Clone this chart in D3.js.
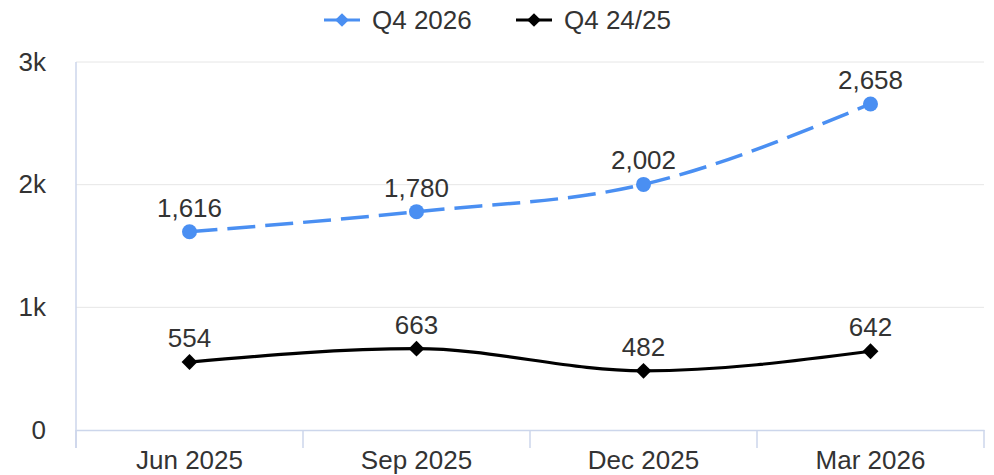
<!DOCTYPE html>
<html>
<head>
<meta charset="utf-8">
<script src="https://cdn.jsdelivr.net/npm/d3@7"></script>
<style>
  body { margin: 0; background: #fff; }
  text { font-family: "Liberation Sans", Arial, sans-serif; fill: #333; }
</style>
</head>
<body>
<div id="chart"></div>
<script>
// data
let categories = ['Jun 2025', 'Sep 2025', 'Dec 2025', 'Mar 2026']
let q4_2026 = [1616, 1780, 2002, 2658]
let q4_2425 = [554, 663, 482, 642]
let yTicks = [0, 1000, 2000, 3000]
let seriesNames = ['Q4 2026', 'Q4 24/25']

let W = 994, H = 475
let margin = { top: 62, right: 10, bottom: 45, left: 76 }
let blue = '#4a8ff2', black = '#000'
let fs = 26

let svg = d3.select('#chart').append('svg')
    .attr('width', W)
    .attr('height', H)

let x = d3.scaleBand()
    .domain(categories)
    .range([margin.left, W - margin.right])

let y = d3.scaleLinear()
    .domain([0, 3000])
    .range([H - margin.bottom, margin.top])

let fmt = d3.format(',')
let cx = d => x(d) + x.bandwidth() / 2

// gridlines
svg.append('g')
    .selectAll('line')
    .data(yTicks.slice(1))
    .enter().append('line')
    .attr('x1', margin.left).attr('x2', W - margin.right)
    .attr('y1', d => y(d)).attr('y2', d => y(d))
    .attr('stroke', '#e6e6e6')
    .attr('stroke-width', 1)

// y axis
let yAxis = svg.append('g')
    .attr('transform', `translate(${margin.left},0)`)
    .call(d3.axisLeft(y).tickValues(yTicks).tickSize(0).tickPadding(30)
        .tickFormat(d => d === 0 ? '0' : d3.format('~s')(d)))
yAxis.select('.domain').remove()
yAxis.selectAll('text').attr('font-size', fs).attr('fill', '#333')
    .attr('font-family', '"Liberation Sans", Arial, sans-serif')
yAxis.append('line')
    .attr('x1', 0).attr('x2', 0)
    .attr('y1', margin.top).attr('y2', H - margin.bottom + 18)
    .attr('stroke', '#ccd6eb')
    .attr('stroke-width', 1.5)

// x axis
let xAxis = svg.append('g')
    .attr('transform', `translate(0,${H - margin.bottom})`)
    .call(d3.axisBottom(x).tickSize(0).tickPadding(21))
xAxis.select('.domain').attr('stroke', '#ccd6eb').attr('stroke-width', 1.5)
xAxis.selectAll('text').attr('font-size', fs).attr('fill', '#333')
    .attr('font-family', '"Liberation Sans", Arial, sans-serif')
let edges = categories.map(d => x(d)).concat([x(categories[categories.length - 1]) + x.bandwidth()])
xAxis.selectAll('.edge')
    .data(edges)
    .enter().append('line')
    .attr('class', 'edge')
    .attr('x1', d => d).attr('x2', d => d)
    .attr('y1', 0).attr('y2', 18)
    .attr('stroke', '#ccd6eb')
    .attr('stroke-width', 1.5)

// lines
let line = d3.line()
    .x((d, i) => cx(categories[i]))
    .y(d => y(d))
    .curve(d3.curveMonotoneX)

svg.append('path')
    .datum(q4_2026)
    .attr('d', line)
    .attr('fill', 'none')
    .attr('stroke', blue)
    .attr('stroke-width', 3.5)
    .attr('stroke-dasharray', '28,10')

svg.append('path')
    .datum(q4_2425)
    .attr('d', line)
    .attr('fill', 'none')
    .attr('stroke', black)
    .attr('stroke-width', 3.2)

// markers
svg.append('g')
    .selectAll('circle')
    .data(q4_2026)
    .enter().append('circle')
    .attr('cx', (d, i) => cx(categories[i]))
    .attr('cy', d => y(d))
    .attr('r', 7.5)
    .attr('fill', blue)

let diamond = d3.symbol().type(d3.symbolDiamond2).size(160)
svg.append('g')
    .selectAll('path')
    .data(q4_2425)
    .enter().append('path')
    .attr('d', diamond)
    .attr('transform', (d, i) => `translate(${cx(categories[i])},${y(d)})`)
    .attr('fill', black)

// data labels
let labels = (data) => {
    svg.append('g')
        .selectAll('text')
        .data(data)
        .enter().append('text')
        .attr('x', (d, i) => cx(categories[i]))
        .attr('y', d => y(d) - 15)
        .attr('text-anchor', 'middle')
        .attr('font-size', fs)
        .text(d => fmt(d))
}
labels(q4_2026)
labels(q4_2425)

// legend
let legend = svg.append('g')
let items = [
    { name: seriesNames[0], color: blue, x0: 324 },
    { name: seriesNames[1], color: black, x0: 516 }
]
items.forEach(it => {
    legend.append('line')
        .attr('x1', it.x0).attr('x2', it.x0 + 36)
        .attr('y1', 20).attr('y2', 20)
        .attr('stroke', it.color)
        .attr('stroke-width', 3)
    legend.append('path')
        .attr('d', d3.symbol().type(d3.symbolDiamond2).size(120))
        .attr('transform', `translate(${it.x0 + 18},20)`)
        .attr('fill', it.color)
    legend.append('text')
        .attr('x', it.x0 + 48)
        .attr('y', 29)
        .attr('font-size', fs)
        .text(it.name)
})
</script>
</body>
</html>
